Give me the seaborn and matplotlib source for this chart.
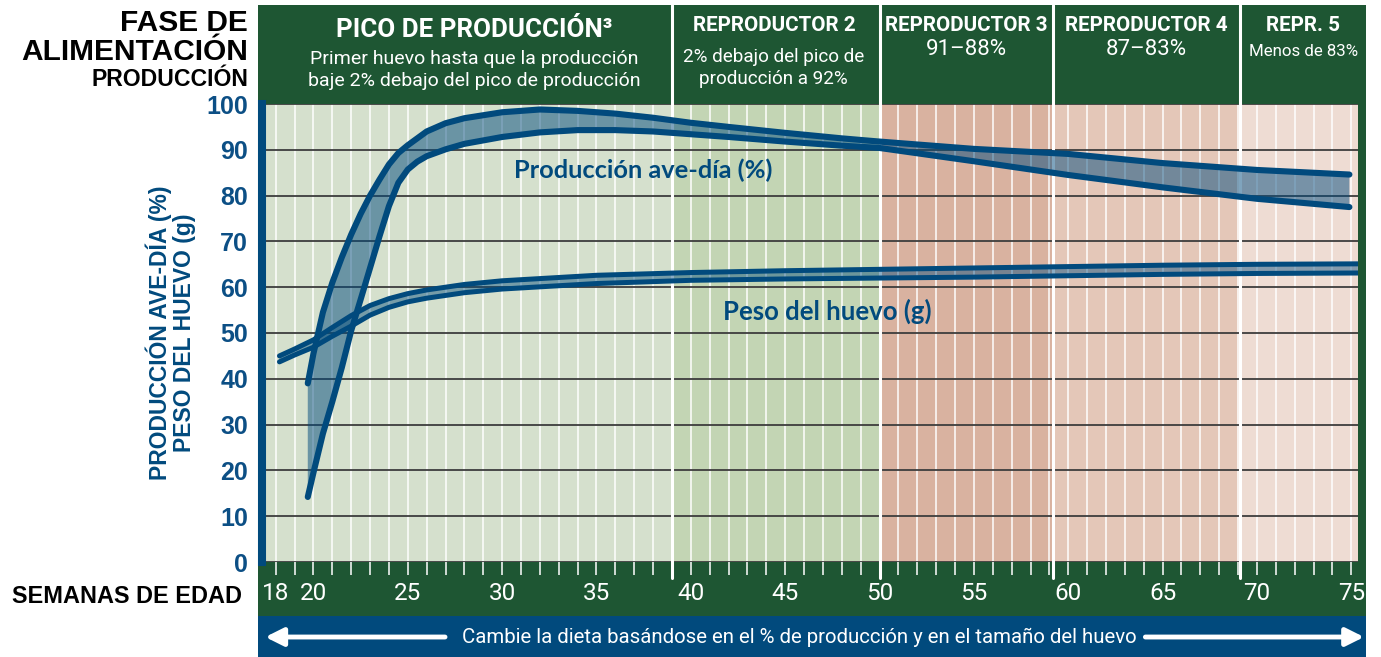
import numpy as np
import pandas as pd
import matplotlib
matplotlib.use("Agg")
import matplotlib.pyplot as plt
import seaborn as sns

# ---------------------------------------------------------------- data
# Producción ave-día (%): límite superior e inferior del estándar
prod_hi_weeks = [19.7, 20.0, 20.5, 21.0, 21.5, 22.0, 22.5, 23.0, 23.5, 24.0,
                 24.5, 25.0, 26.0, 27.0, 28.0, 30.0, 32.0, 34.0, 36.0, 38.0,
                 40.0, 42.0, 45.0, 48.0, 50.0, 55.0, 60.0, 65.0, 70.0, 74.9]
prod_hi = [39.0, 45.5, 54.5, 61.0, 66.5, 71.5, 76.0, 80.0, 83.5, 86.8,
           89.3, 91.0, 94.0, 95.8, 96.9, 98.2, 98.8, 98.5, 97.9, 97.0,
           95.9, 95.0, 93.7, 92.5, 91.8, 90.2, 89.1, 87.1, 85.6, 84.6]

prod_lo_weeks = [19.7, 20.0, 20.5, 21.0, 21.5, 22.0, 22.5, 23.0, 23.5, 24.0,
                 24.5, 25.0, 25.5, 26.0, 27.0, 28.0, 30.0, 32.0, 34.0, 36.0,
                 38.0, 40.0, 42.0, 45.0, 48.0, 50.0, 55.0, 60.0, 65.0, 70.0, 74.9]
prod_lo = [14.2, 19.5, 28.0, 35.0, 42.4, 50.5, 57.3, 64.2, 71.1, 77.7,
           82.8, 85.7, 87.4, 88.6, 90.1, 91.3, 92.8, 93.8, 94.3, 94.3,
           94.0, 93.4, 92.8, 91.8, 90.9, 90.4, 87.5, 84.5, 81.8, 79.3, 77.5]

# Peso del huevo (g): límite superior e inferior
egg_weeks = [18.2, 19, 20, 21, 22, 23, 24, 25, 26, 28,
             30, 35, 40, 45, 50, 55, 60, 65, 70, 75.35]
egg_hi = [45.0, 46.5, 48.5, 51.2, 53.8, 56.0, 57.5, 58.6, 59.4, 60.6,
          61.4, 62.6, 63.2, 63.6, 63.9, 64.2, 64.5, 64.8, 65.0, 65.1]
egg_lo = [43.7, 45.2, 46.9, 49.3, 51.5, 53.9, 55.6, 56.8, 57.6, 58.8,
          59.6, 60.8, 61.5, 61.8, 62.0, 62.2, 62.5, 62.8, 63.0, 63.1]

# Fases de alimentación
phase_edges = [39.0, 50.0, 59.2, 69.1]
phase_titles = ["PICO DE PRODUCCIÓN³", "REPRODUCTOR 2", "REPRODUCTOR 3",
                "REPRODUCTOR 4", "REPR. 5"]
phase_notes = ["Primer huevo hasta que la producción\nbaje 2% debajo del pico de producción",
               "2% debajo del pico de\nproducción a 92%",
               "91–88%", "87–83%", "Menos de 83%"]

week_ticks = [18, 20, 25, 30, 35, 40, 45, 50, 55, 60, 65, 70, 75]
y_ticks = [0, 10, 20, 30, 40, 50, 60, 70, 80, 90, 100]

# ---------------------------------------------------------------- style
GREEN = "#1e5633"
BLUE = "#014a7d"
TICK_BLUE = "#0c4f85"
phase_colors = ["#d5e0cd", "#c3d5b4", "#d9b2a0", "#e4c7b8", "#eedcd3"]
COND = ["Roboto", "DejaVu Sans"]
BOLD = ["Liberation Sans", "DejaVu Sans"]

sns.set_theme(style="white")
plt.rcParams["font.family"] = BOLD

W, H = 1381, 657
fig = plt.figure(figsize=(W / 100, H / 100), dpi=100)
fig.patch.set_facecolor("white")
ax = fig.add_axes([262 / W, (H - 562) / H, (1358 - 262) / W, (562 - 104) / H])
ax.set_facecolor("none")

x0, x1 = 17.274, 75.355
ax.set_xlim(x0, x1)
ax.set_ylim(0, 100)

# frame: green header / right border / week band, blue band below
ax.add_patch(plt.Rectangle((-0.0037, -0.118), 1.011, 1.334, transform=ax.transAxes,
                           facecolor=GREEN, edgecolor="none", clip_on=False, zorder=0.02))
ax.add_patch(plt.Rectangle((-0.0037, -0.21), 1.011, 0.092, transform=ax.transAxes,
                           facecolor=BLUE, edgecolor="none", clip_on=False, zorder=0.03))

# phase backgrounds
bounds = [x0] + phase_edges + [x1]
for i, c in enumerate(phase_colors):
    ax.axvspan(bounds[i], bounds[i + 1], color=c, lw=0, zorder=0.1)

# grid
ax.set_axisbelow(True)
ax.set_xticks(week_ticks)
ax.set_xticks(np.arange(18, 76), minor=True)
ax.set_yticks(y_ticks)
ax.grid(axis="x", which="both", color="white", lw=1.2, alpha=0.9)
ax.grid(axis="y", which="major", color="#3d3d3d", lw=1.3)

# phase dividers (through header and tick band)
for e in phase_edges:
    ax.axvline(e, ymin=-0.036, ymax=1.216, color="white", lw=2.2, clip_on=False, zorder=1.5)

# bands
ax.fill(prod_hi_weeks + prod_lo_weeks[::-1], prod_hi + prod_lo[::-1],
        color=BLUE, alpha=0.5, lw=0, zorder=3)
ax.fill(egg_weeks + egg_weeks[::-1], egg_hi + egg_lo[::-1],
        color=BLUE, alpha=0.45, lw=0, zorder=3)

# curves
line_kw = dict(ax=ax, color=BLUE, solid_capstyle="round", zorder=4, legend=False)
sns.lineplot(x=prod_hi_weeks, y=prod_hi, linewidth=4.4, **line_kw)
sns.lineplot(x=prod_lo_weeks, y=prod_lo, linewidth=4.4, **line_kw)
sns.lineplot(x=egg_weeks, y=egg_hi, linewidth=3.6, **line_kw)
sns.lineplot(x=egg_weeks, y=egg_lo, linewidth=3.6, **line_kw)

ax.text(37.5, 85.6, "Producción ave-día (%)", color=BLUE, fontsize=18.3,
        fontweight="bold", family=["Lato", "DejaVu Sans"], ha="center", va="center", zorder=5)
ax.text(47.25, 54.8, "Peso del huevo (g)", color=BLUE, fontsize=18.5,
        fontweight="bold", family=["Lato", "DejaVu Sans"], ha="center", va="center", zorder=5)

# spines and ticks
for s in ["top", "right", "bottom"]:
    ax.spines[s].set_visible(False)
ax.spines["left"].set_color(BLUE)
ax.spines["left"].set_linewidth(5.8)
ax.spines["left"].set_zorder(6)

ax.tick_params(axis="x", which="both", direction="out", length=9.5, width=1.1,
               color="white", bottom=True, labelcolor="white", labelsize=17.5, pad=5)
ax.tick_params(axis="y", length=0, pad=10, labelcolor=TICK_BLUE, labelsize=18)
for lab in ax.get_xticklabels():
    lab.set_family(COND)
for lab in ax.get_yticklabels():
    lab.set_fontweight("bold")

ax.set_xlabel("")
ax.set_ylabel("PRODUCCIÓN AVE-DÍA (%)\nPESO DEL HUEVO (g)", color=BLUE, fontsize=16.5,
              fontweight="bold", linespacing=1.05)
ax.yaxis.set_label_coords(-0.060, 0.5)

# header texts
tx = ax.get_xaxis_transform()
centers = [28.5, 44.4, 54.6, 64.15, 72.45]
title_y = [1.162, 1.172, 1.172, 1.172, 1.172]
title_size = [18.6, 14.9, 14.9, 14.9, 14.9]
for i, t in enumerate(phase_titles):
    ax.text(centers[i], title_y[i], t, transform=tx, ha="center", va="center",
            color="white", fontsize=title_size[i], fontweight="bold", family=COND, clip_on=False)
note_y = [1.074, 1.079, 1.118, 1.118, 1.114]
note_size = [14.0, 13.6, 16.0, 16.0, 12.2]
for i, t in enumerate(phase_notes):
    ax.text(centers[i], note_y[i], t, transform=tx, ha="center", va="center",
            color="white", fontsize=note_size[i], family=COND, linespacing=1.3, clip_on=False)

# left captions
ax.text(-0.0128, 1.1594, "FASE DE", transform=ax.transAxes, ha="right", va="baseline",
        fontsize=21.5, fontweight="bold", color="black")
ax.text(-0.0128, 1.0961, "ALIMENTACIÓN", transform=ax.transAxes, ha="right", va="baseline",
        fontsize=21.5, fontweight="bold", color="black")
ax.text(-0.0128, 1.0393, "PRODUCCIÓN", transform=ax.transAxes, ha="right", va="baseline",
        fontsize=16.6, fontweight="bold", color="black")
ax.text(-0.0182, -0.0764, "SEMANAS DE EDAD", transform=ax.transAxes, ha="right", va="center",
        fontsize=16.9, fontweight="bold", color="black")

# bottom band: note with arrows
ax.text(0.4904, -0.1638, "Cambie la dieta basándose en el % de producción y en el tamaño del huevo",
        transform=ax.transAxes, ha="center", va="center", color="white", fontsize=14.7,
        family=COND, clip_on=False)
arrow = dict(arrowstyle="-|>,head_length=0.9,head_width=0.45", color="white", lw=3.5,
             shrinkA=0, shrinkB=0)
ax.annotate("", xy=(0.003, -0.1638), xytext=(0.167, -0.1638), xycoords="axes fraction",
            textcoords="axes fraction", arrowprops=arrow, annotation_clip=False)
ax.annotate("", xy=(1.0055, -0.1638), xytext=(0.806, -0.1638), xycoords="axes fraction",
            textcoords="axes fraction", arrowprops=arrow, annotation_clip=False)

fig.savefig("out.png", dpi=100)
